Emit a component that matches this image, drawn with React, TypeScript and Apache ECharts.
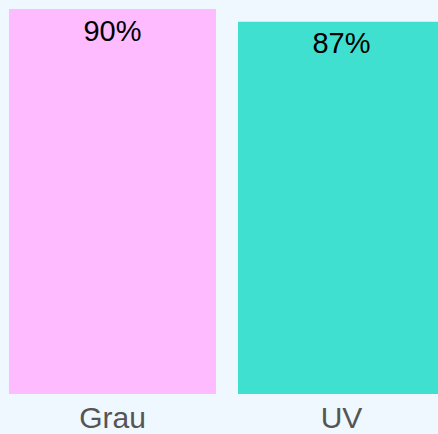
import React, { useEffect, useRef } from "react";
import * as echarts from "echarts";

const categories = ["Grau", "UV"];
const values = [90, 87];
const barColors = ["#ffbbff", "#40e0d0"];

export default function App() {
  const ref = useRef<HTMLDivElement>(null);
  useEffect(() => {
    if (!ref.current) return;
    const chart = echarts.init(ref.current, undefined, { renderer: "svg" });
    chart.setOption({
      animation: false,
      backgroundColor: "#f0f8ff",
      grid: { left: 0, top: 9, right: 0, bottom: 40, containLabel: false },
      xAxis: {
        type: "category",
        data: categories,
        axisLine: { show: false },
        axisTick: { show: false },
        axisLabel: {
          color: "#555555",
          fontSize: 30,
          lineHeight: 25,
          fontFamily: "Liberation Sans, Arial, sans-serif",
          margin: 11,
        },
      },
      yAxis: { type: "value", min: 0, max: 90, show: false, splitLine: { show: false } },
      series: [
        {
          type: "bar",
          data: values.map((v, i) => ({ value: v, itemStyle: { color: barColors[i] } })),
          barCategoryGap: "9.6%",
          label: {
            show: true,
            position: "insideTop",
            distance: 7,
            formatter: "{c}%",
            color: "#000000",
            fontSize: 29,
            fontFamily: "Liberation Sans, Arial, sans-serif",
          },
        },
      ],
    });
    return () => chart.dispose();
  }, []);
  return (
    <div
      ref={ref}
      style={{ position: "fixed", left: -2, top: 0, width: 458, height: 434 }}
    />
  );
}
